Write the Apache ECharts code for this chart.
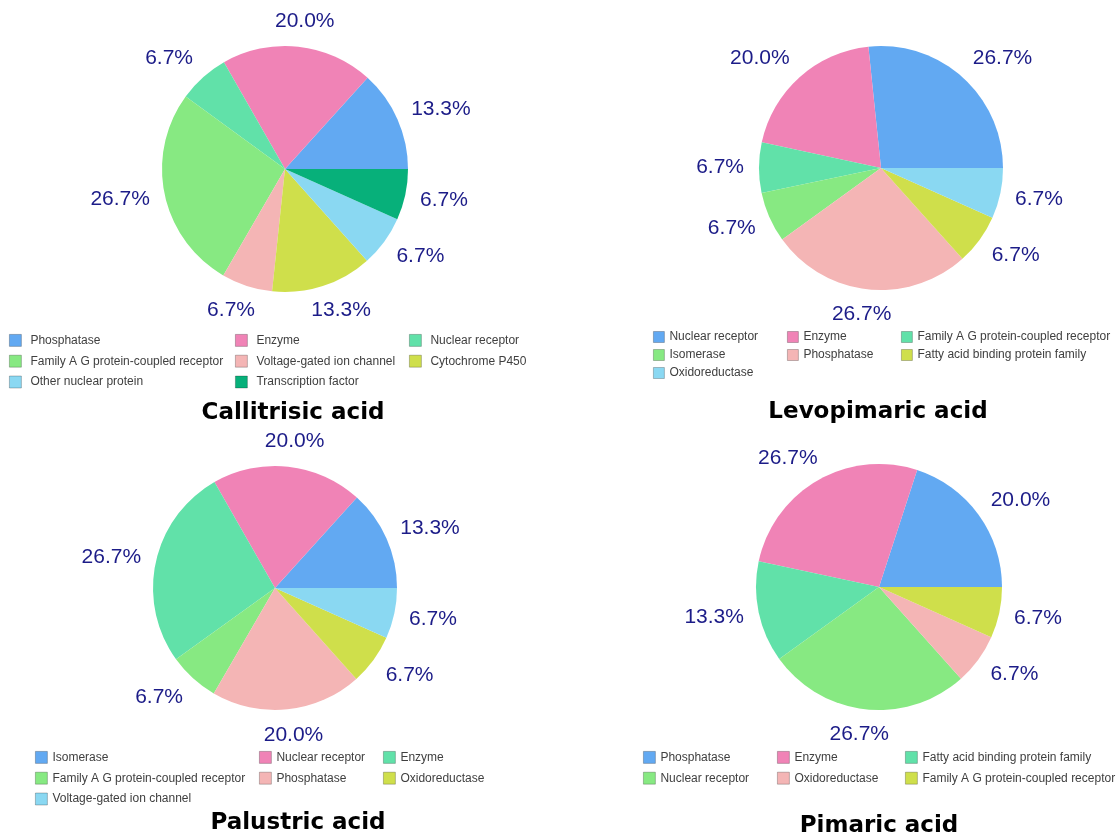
<!DOCTYPE html>
<html>
<head>
<meta charset="utf-8">
<script src="https://cdn.jsdelivr.net/npm/echarts@6/dist/echarts.min.js"></script>
<style>
  html, body { margin: 0; padding: 0; background: #fff; }
  .panel { position: absolute; left: 0; top: 0; width: 1118px; height: 837px; }
</style>
</head>
<body>
<div id="p1" class="panel"></div>
<div id="p2" class="panel"></div>
<div id="p3" class="panel"></div>
<div id="p4" class="panel"></div>
<script>
// data (percent of targets)
var callitrisicNames = ['Phosphatase', 'Enzyme', 'Nuclear receptor', 'Family A G protein-coupled receptor',
  'Voltage-gated ion channel', 'Cytochrome P450', 'Other nuclear protein', 'Transcription factor']
var callitrisicValues = [13.3, 20.0, 6.7, 26.7, 6.7, 13.3, 6.7, 6.7]

var levopimaricNames = ['Nuclear receptor', 'Enzyme', 'Family A G protein-coupled receptor', 'Isomerase',
  'Phosphatase', 'Fatty acid binding protein family', 'Oxidoreductase']
var levopimaricValues = [26.7, 20.0, 6.7, 6.7, 26.7, 6.7, 6.7]

var palustricNames = ['Isomerase', 'Nuclear receptor', 'Enzyme', 'Family A G protein-coupled receptor',
  'Phosphatase', 'Oxidoreductase', 'Voltage-gated ion channel']
var palustricValues = [13.3, 20.0, 26.7, 6.7, 20.0, 6.7, 6.7]

var pimaricNames = ['Phosphatase', 'Enzyme', 'Fatty acid binding protein family', 'Nuclear receptor',
  'Oxidoreductase', 'Family A G protein-coupled receptor']
var pimaricValues = [20.0, 26.7, 13.3, 26.7, 6.7, 6.7]

var palette = ['#62a9f2', '#f083b6', '#61e1a9', '#87e982', '#f4b5b5', '#cfdf4b', '#8ad8f2', '#07b07a']

// push each label out along its slice direction, office-chart style
function outsideLabel (params) {
  var pts = params.labelLinePoints
  if (!pts) return {}
  var dx = pts[1][0] - pts[0][0]
  var dy = pts[1][1] - pts[0][1]
  var len = Math.sqrt(dx * dx + dy * dy) || 1
  var ux = dx / len
  var uy = dy / len
  var fx = (ux < 0 ? -1 : 1) * Math.min(1, Math.abs(ux) * 1.5)
  var w = params.labelRect.width
  var h = params.labelRect.height
  return {
    x: pts[1][0] + fx * w / 2,
    y: pts[1][1] + uy * h / 2,
    align: 'center',
    verticalAlign: 'middle'
  }
}

function buildPanel (id, names, values, title, layout) {
  var legends = []
  for (var c = 0; c < 3; c++) {
    var col = names.filter(function (n, i) { return i % 3 === c })
    legends.push({
      data: col,
      orient: 'vertical',
      left: layout.legendLeft[c],
      top: layout.legendTop,
      padding: 0,
      itemWidth: layout.icon,
      itemHeight: layout.icon,
      itemGap: layout.legendGap,
      icon: 'rect',
      selectedMode: false,
      itemStyle: { borderColor: 'rgba(0,0,0,0.3)', borderWidth: 0.8 },
      textStyle: {
        fontFamily: 'Liberation Sans',
        fontSize: 12,
        color: '#404040',
        lineHeight: layout.icon,
        padding: [0, 0, 0, layout.textPad]
      }
    })
  }

  var option = {
    animation: false,
    color: palette,
    legend: legends,
    graphic: [{
      type: 'text',
      x: layout.titleX,
      y: layout.titleY,
      style: {
        text: title,
        fontFamily: 'DejaVu Sans',
        fontWeight: 'bold',
        fontSize: 23,
        fill: '#000',
        align: 'center',
        verticalAlign: 'middle'
      }
    }],
    series: [{
      type: 'pie',
      center: layout.center,
      radius: layout.radius,
      startAngle: 0,
      clockwise: false,
      avoidLabelOverlap: false,
      itemStyle: { borderWidth: 0 },
      emphasis: { disabled: true },
      label: {
        show: true,
        position: 'outside',
        fontFamily: 'Liberation Sans',
        fontSize: 21,
        color: '#1c1c88',
        formatter: function (p) { return p.value.toFixed(1) + '%' }
      },
      labelLine: {
        show: true,
        length: 15,
        length2: 0,
        lineStyle: { width: 0, opacity: 0 }
      },
      labelLayout: outsideLabel,
      data: names.map(function (n, i) { return { name: n, value: values[i] } })
    }]
  }

  var chart = echarts.init(document.getElementById(id))
  chart.setOption(option)
}

buildPanel('p1', callitrisicNames, callitrisicValues, 'Callitrisic acid', {
  center: [285, 169], radius: 123,
  legendLeft: [9, 235, 409], legendTop: 334, legendGap: 8, icon: 12, textPad: 4,
  titleX: 293, titleY: 413
})
buildPanel('p2', levopimaricNames, levopimaricValues, 'Levopimaric acid', {
  center: [881, 168], radius: 122,
  legendLeft: [653, 787, 901], legendTop: 331, legendGap: 6, icon: 11, textPad: 0,
  titleX: 878, titleY: 412
})
buildPanel('p3', palustricNames, palustricValues, 'Palustric acid', {
  center: [275, 588], radius: 122,
  legendLeft: [35, 259, 383], legendTop: 751, legendGap: 8, icon: 12, textPad: 0,
  titleX: 298, titleY: 823
})
buildPanel('p4', pimaricNames, pimaricValues, 'Pimaric acid', {
  center: [879, 587], radius: 123,
  legendLeft: [643, 777, 905], legendTop: 751, legendGap: 8, icon: 12, textPad: 0,
  titleX: 879, titleY: 826
})
</script>
</body>
</html>
